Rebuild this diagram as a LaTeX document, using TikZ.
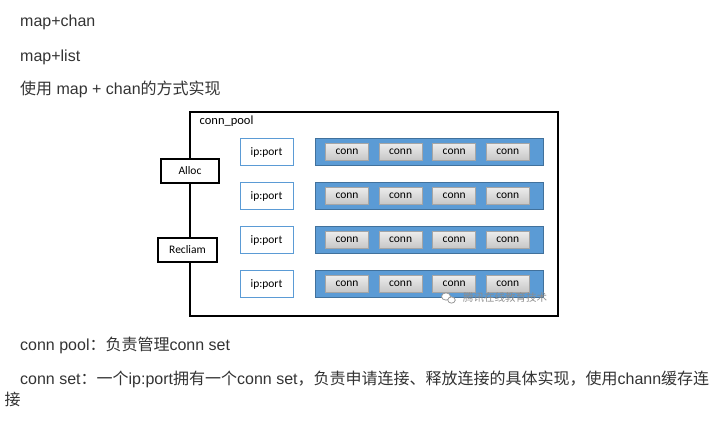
\documentclass[tikz,border=0pt]{standalone}
\usepackage{fontspec}
\setmainfont{Liberation Sans}
\newfontfamily\cjk{Noto Sans CJK SC}
\newfontfamily\boxfont{Carlito}
\usepackage{tikz}
\usetikzlibrary{calc,positioning}

\definecolor{barblue}{HTML}{5B9BD5}
\definecolor{bardark}{HTML}{41719C}
\definecolor{conngray}{HTML}{A5A5A5}
\definecolor{txtgray}{HTML}{333333}

\tikzset{
	textline/.style={font=\fontsize{16}{19}\selectfont, text=txtgray, anchor=base west, inner sep=0pt},
	sidebox/.style={draw, fill=white, line width=1.1pt, minimum height=24pt, inner sep=0pt, font=\boxfont\fontsize{11.5}{13}\selectfont},
	ipbox/.style={draw=barblue, fill=white, line width=1pt, minimum width=53pt, minimum height=27pt, inner sep=0pt, font=\boxfont\fontsize{11.5}{13}\selectfont},
	connset/.style={draw=bardark, fill=barblue, line width=1pt, minimum width=228pt, minimum height=27pt, inner sep=0pt},
	connbox/.style={draw=conngray, top color=gray!15, bottom color=gray!45, line width=1pt, minimum width=43pt, minimum height=17pt, inner sep=0pt, font=\boxfont\fontsize{11.5}{13}\selectfont}
}

\begin{document}
\begin{tikzpicture}[x=1pt,y=-1pt]
	\useasboundingbox (0,0) rectangle (723,424);
	
	%text above
	\node[textline] (t1) at (20,26) {map+chan};
	\node[textline] (t2) at (20,61) {map+list};
	\node[textline] (t3) at (20,94.5) {{\cjk 使用} map + chan{\cjk 的方式实现}};
	
	%pool frame
	\node[draw, line width=1.2pt, minimum width=368pt, minimum height=204pt, inner sep=0pt] (pool) at (374,214) {};
	\node[anchor=base west, inner sep=0pt, font=\boxfont\fontsize{12.5}{14}\selectfont] (poolname) at (199.5,124.5) {conn\_pool};
	
	\node[sidebox, minimum width=58pt] (alloc) at (190,171) {Alloc};
	\node[sidebox, minimum width=59pt] (recliam) at (187.5,250) {Recliam};
	
	%conn sets
	\foreach \r/\y in {1/152,2/196,3/240,4/284}{
		\node[ipbox] (ip\r) at (266.5,\y) {ip:port};
		\node[connset] (set\r) at (429.5,\y) {};
		\foreach \c in {1,...,4}{
			\node[connbox] (conn\r\c) at ({293.4+53.6*\c},\y) {conn};
		}
	}
	
	%watermark
	\draw[gray!80, fill=white, line width=0.8pt] (446,296.5) ellipse (4.5 and 3.6);
	\draw[gray!80, fill=white, line width=0.8pt] (451.5,300) ellipse (3.8 and 3.1);
	\node[anchor=west, inner sep=0pt, text=gray!90, font=\cjk\fontsize{10.5}{12}\selectfont] (mark) at (463,298) {腾讯在线教育技术};
	
	%text below
	\node[textline] (b1) at (20,350.5) {conn pool{\cjk ：负责管理}conn set};
	\node[textline] (b2) at (20,384) {conn set{\cjk ：一个}ip:port{\cjk 拥有一个}conn set{\cjk ，负责申请连接、释放连接的具体实现，使用}chann{\cjk 缓存连}};
	\node[textline] (b3) at (4.5,405.5) {\cjk 接};
\end{tikzpicture}
\end{document}
